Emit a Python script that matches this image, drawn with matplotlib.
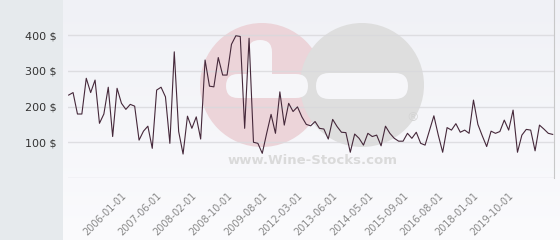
import numpy as np
import matplotlib
matplotlib.use('Agg')
import matplotlib.pyplot as plt
from matplotlib.patches import Circle, FancyBboxPatch

# price series (one value per observation, irregular dates)
prices = [232, 239, 179, 179, 279, 239, 274, 153, 179, 254,
          116, 251, 209, 192, 206, 201, 106, 131, 145, 83,
          246, 254, 227, 97, 353, 130, 67, 173, 139, 171,
          109, 330, 257, 255, 337, 288, 288, 374, 398, 396,
          139, 391, 100, 97, 69, 125, 178, 125, 241, 148,
          209, 186, 199, 171, 150, 146, 158, 139, 137, 109,
          164, 144, 128, 127, 72, 123, 111, 92, 125, 116,
          120, 90, 145, 125, 111, 103, 103, 125, 111, 128,
          97, 92, 133, 174, 120, 72, 141, 134, 152, 128,
          134, 125, 218, 150, 118, 88, 131, 125, 130, 162,
          134, 190, 72, 120, 136, 134, 76, 148, 137, 125, 122]
date_labels = ['2006-01-01', '2007-06-01', '2008-02-01', '2008-10-01',
               '2009-08-01', '2012-03-01', '2013-06-01', '2014-05-01',
               '2015-09-01', '2016-08-01', '2018-01-01', '2019-10-01']
y_ticks = [0, 100, 200, 300, 400]
y_labels = ['', '100 $', '200 $', '300 $', '400 $']

W, H = 560, 240
fig = plt.figure(figsize=(W / 100, H / 100), dpi=100)
fig.patch.set_facecolor('#e6eaed')

# plot panel background (soft vertical gradient)
bg = fig.add_axes([63 / W, 0, (W - 63) / W, 1], zorder=0)
grad = np.linspace(0, 1, 256).reshape(-1, 1)
bg.imshow(grad, aspect='auto', extent=[0, 1, 0, 1],
          cmap=matplotlib.colors.LinearSegmentedColormap.from_list(
              'g', ['#fbfbfd', '#f0f1f6']), origin='lower')
bg.axis('off')

# watermark overlay, in pixel units
wm = fig.add_axes([0, 0, 1, 1], zorder=1)
wm.set_xlim(0, W)
wm.set_ylim(H, 0)
wm.axis('off')
wm.add_patch(Circle((262, 85), 62, color='#ecd4d9', lw=0))
wm.add_patch(Circle((362, 85), 62, color='#dedede', lw=0))
wm.add_patch(FancyBboxPatch((226, 74), 82, 24, boxstyle='round,pad=0,rounding_size=12',
                            color='#f6f6f9', lw=0))
wm.add_patch(FancyBboxPatch((248, 40), 24, 50, boxstyle='round,pad=0,rounding_size=12',
                            color='#f6f6f9', lw=0))
wm.add_patch(FancyBboxPatch((316, 73), 92, 26, boxstyle='round,pad=0,rounding_size=13',
                            color='#f6f6f9', lw=0))
wm.text(313, 160, 'www.Wine-Stocks.com', ha='center', va='center',
        fontsize=9.5, fontweight='bold', color='#dadada')
wm.text(412, 118, '®', ha='center', va='center', fontsize=9, color='#d4d4d4')

# main chart
ax = fig.add_axes([68 / W, (H - 178) / H, (554 - 68) / W, 178 / H], zorder=2)
ax.patch.set_alpha(0)
x = np.arange(len(prices))
ax.plot(x, prices, color='#45283a', lw=0.8, zorder=3)
ax.set_xlim(-0.15, len(prices) - 1 + 0.3)
ax.set_ylim(0, 498)

ax.set_yticks(y_ticks)
ax.set_yticklabels(y_labels, fontsize=8, color='#333333')
ax.yaxis.grid(True, color='#d8d8dc', lw=1, alpha=0.8)
ax.set_axisbelow(True)

ax.set_xticks([12 + 8 * i for i in range(len(date_labels))])
ax.set_xticklabels(date_labels, rotation=45, ha='right', rotation_mode='anchor',
                   fontsize=7, color='#888888')
ax.tick_params(axis='both', length=0)
ax.tick_params(axis='y', pad=8)
ax.tick_params(axis='x', pad=9)

for s in ['top', 'left', 'bottom']:
    ax.spines[s].set_visible(False)
ax.spines['right'].set_color('#c8c8c8')

fig.savefig('out.png', dpi=100)
